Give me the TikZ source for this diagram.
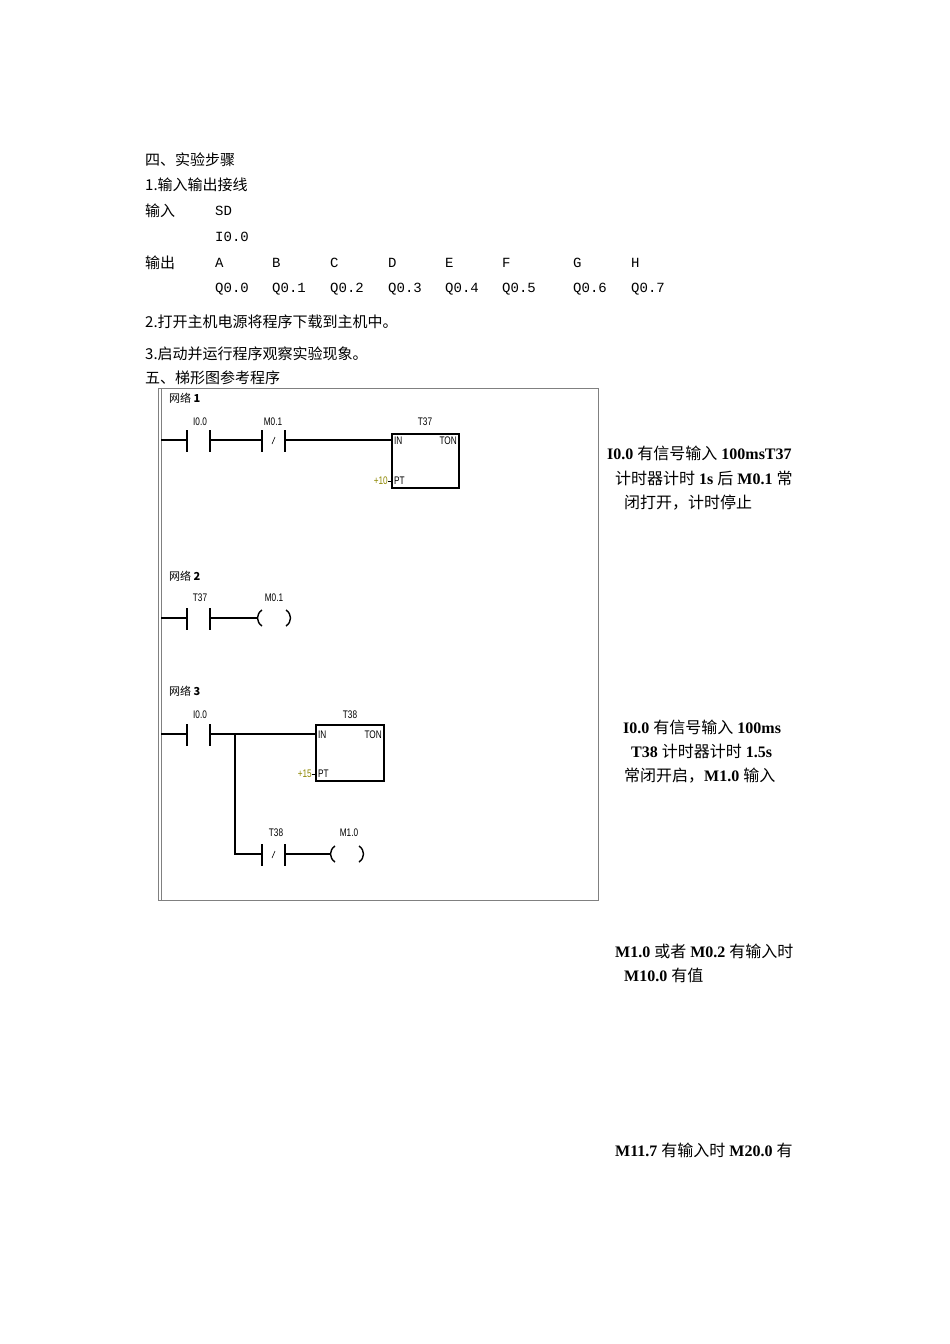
\documentclass[tikz,border=0pt]{standalone}
\usepackage{fontspec}
\setmainfont{Liberation Serif}
\newfontfamily\cjk{Noto Sans CJK SC}
\newfontfamily\lad{Liberation Sans}[FakeStretch=0.75]
\newfontfamily\monof{Liberation Mono}
\begin{document}
\begin{tikzpicture}[x=1pt,y=-1pt,
  txt/.style={anchor=west,inner sep=0pt,font=\fontsize{15}{17}\selectfont\cjk},
  mono/.style={anchor=west,inner sep=0pt,font=\fontsize{14}{16}\selectfont\monof},
  rt/.style={anchor=west,inner sep=0pt,font=\fontsize{16}{18}\selectfont},
  lab/.style={inner sep=0pt,font=\fontsize{11}{12}\selectfont\lad},
  wire/.style={line width=1.4pt},
  pt/.style={inner sep=0pt,font=\fontsize{11}{12}\selectfont\lad,text=olive}]
\useasboundingbox (0,0) rectangle (950,1344);
% steps
\node[txt] (s1) at (145,160) {四、实验步骤};
\node[txt] (s2) at (145,185) {1.输入输出接线};
\node[txt] (s3) at (145,211) {输入};
\node[mono] (sd) at (215,211) {SD};
\node[mono] (i0) at (215,237) {I0.0};
\node[txt] (s4) at (145,263) {输出};
\foreach \l/\x [count=\i from 0] in {A/215,B/272,C/330,D/388,E/445,F/502,G/573,H/631}{
  \node[mono] (o\i) at (\x,263) {\l};
  \node[mono] (q\i) at (\x,289) {Q0.\i};
}
\node[txt] (s5) at (145,322) {2.打开主机电源将程序下载到主机中。};
\node[txt] (s6) at (145,354) {3.启动并运行程序观察实验现象。};
\node[txt] (s7) at (145,378) {五、梯形图参考程序};
% frame
\draw[gray,line width=0.8pt] (158,388) rectangle (598,900);
\draw[gray,line width=0.8pt] (161,388) -- (161,900);
% network 1
\node[lab,anchor=west] (n1) at (169,398) {\cjk 网络\ \bfseries 1};
\draw[wire] (161,440) -- (187,440) (187,430) -- (187,452) (210,430) -- (210,452)
  (210,440) -- (262,440) (262,430) -- (262,452) (285,430) -- (285,452) (285,440) -- (392,440);
\draw[line width=0.6pt] (272,444) -- (275,437);
\node[lab] (a1) at (200,422) {I0.0};
\node[lab] (a2) at (273,422) {M0.1};
\node[lab] (a3) at (425,422) {T37};
\draw[line width=1.4pt] (392,434) rectangle (459,488);
\node[lab,anchor=west] (in1) at (394,441) {IN};
\node[lab,anchor=east] (ton1) at (457,441) {TON};
\node[lab,anchor=west] (pt1) at (394,481) {PT};
\node[pt,anchor=east] (p10) at (388,481) {+10};
\draw[line width=1pt] (388,481) -- (392,481);
% network 2
\node[lab,anchor=west] (n2) at (169,576) {\cjk 网络\ \bfseries 2};
\draw[wire] (161,618) -- (187,618) (187,608) -- (187,630) (210,608) -- (210,630) (210,618) -- (258,618);
\draw[line width=1.4pt] (262,610) .. controls (256,614) and (256,622) .. (262,626);
\draw[line width=1.4pt] (286,610) .. controls (292,614) and (292,622) .. (286,626);
\node[lab] (b1) at (200,598) {T37};
\node[lab] (b2) at (274,598) {M0.1};
% network 3
\node[lab,anchor=west] (n3) at (169,691) {\cjk 网络\ \bfseries 3};
\draw[wire] (161,734) -- (187,734) (187,724) -- (187,746) (210,724) -- (210,746) (210,734) -- (316,734)
  (235,734) -- (235,854) -- (262,854) (262,844) -- (262,866) (285,844) -- (285,866) (285,854) -- (331,854);
\draw[line width=0.6pt] (272,858) -- (275,851);
\draw[line width=1.4pt] (335,846) .. controls (329,850) and (329,858) .. (335,862);
\draw[line width=1.4pt] (359,846) .. controls (365,850) and (365,858) .. (359,862);
\node[lab] (c1) at (200,715) {I0.0};
\node[lab] (c2) at (350,715) {T38};
\node[lab] (c3) at (276,833) {T38};
\node[lab] (c4) at (349,833) {M1.0};
\draw[line width=1.4pt] (316,725) rectangle (384,781);
\node[lab,anchor=west] (in3) at (318,735) {IN};
\node[lab,anchor=east] (ton3) at (382,735) {TON};
\node[lab,anchor=west] (pt3) at (318,774) {PT};
\node[pt,anchor=east] (p15) at (312,774) {+15};
\draw[line width=1pt] (312,774) -- (316,774);
% right notes
\node[rt] (r1) at (607,453) {\textbf{I0.0} {\cjk 有信号输入} \textbf{100msT37}};
\node[rt] (r2) at (615,478) {{\cjk 计时器计时} \textbf{1s} {\cjk 后} \textbf{M0.1} {\cjk 常}};
\node[rt] (r3) at (624,503) {\cjk 闭打开，计时停止};
\node[rt] (r4) at (623,727) {\textbf{I0.0} {\cjk 有信号输入} \textbf{100ms}};
\node[rt] (r5) at (631,751) {\textbf{T38} {\cjk 计时器计时} \textbf{1.5s}};
\node[rt] (r6) at (624,776) {{\cjk 常闭开启，}\textbf{M1.0} {\cjk 输入}};
\node[rt] (r7) at (615,951) {\textbf{M1.0} {\cjk 或者} \textbf{M0.2} {\cjk 有输入时}};
\node[rt] (r8) at (624,975) {\textbf{M10.0} {\cjk 有值}};
\node[rt] (r9) at (615,1150) {\textbf{M11.7} {\cjk 有输入时} \textbf{M20.0} {\cjk 有}};
\end{tikzpicture}
\end{document}
